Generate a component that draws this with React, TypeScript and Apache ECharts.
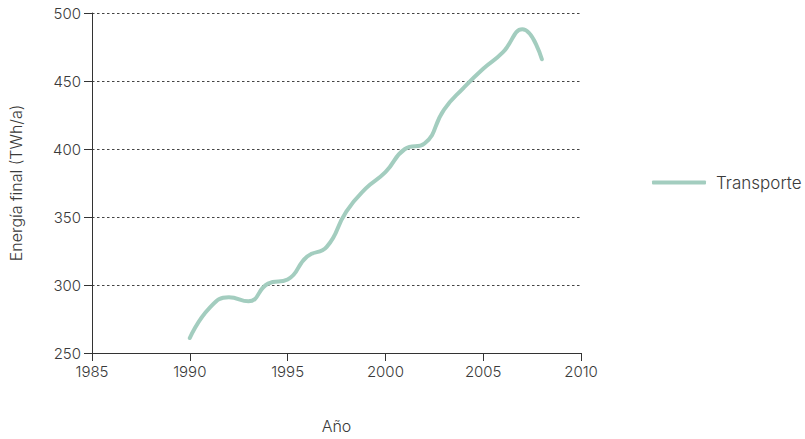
import React, { useEffect, useRef } from "react";
import * as echarts from "echarts";

const years = [1990, 1991, 1992, 1993, 1994, 1995, 1996, 1997, 1998, 1999, 2000, 2001, 2002, 2003, 2004, 2005, 2006, 2007, 2008];
const transporte = [261, 283, 291, 288, 301, 304, 321, 328, 354, 371, 383, 400, 404, 429, 445, 459, 471, 488, 466];
const seriesName = "Transporte";
const xName = "Año";
const yName = "Energía final (TWh/a)";

const FONT = "Inter, 'Liberation Sans', Arial, sans-serif";
const TXT = "#3a3a3a";
const LINE = "#a3cdbf";

export default function App() {
  const ref = useRef<HTMLDivElement>(null);
  useEffect(() => {
    if (!ref.current) return;
    const chart = echarts.init(ref.current, undefined, { renderer: "svg" });
    chart.setOption({
      animation: false,
      backgroundColor: "#ffffff",
      textStyle: { fontFamily: FONT, fontWeight: 300 },
      grid: { left: 92, right: 224, top: 13, bottom: 86, containLabel: false },
      legend: {
        show: true,
        data: [{ name: seriesName, icon: "roundRect" }],
        left: 652,
        top: 174,
        padding: 0,
        orient: "vertical",
        itemWidth: 54,
        itemHeight: 4,
        itemStyle: { color: LINE },
        textStyle: { fontFamily: FONT, fontWeight: 300, fontSize: 17, color: TXT, padding: [0, 0, 0, 5] },
      },
      xAxis: {
        type: "value",
        min: 1985,
        max: 2010,
        interval: 5,
        name: xName,
        nameLocation: "middle",
        nameGap: 65,
        nameTextStyle: { fontFamily: FONT, fontWeight: 300, fontSize: 16, color: TXT },
        axisLine: { show: true, onZero: false, lineStyle: { color: "#333", width: 1 } },
        axisTick: { show: true, inside: false, length: 8, lineStyle: { color: "#333" } },
        axisLabel: { fontFamily: FONT, fontWeight: 300, fontSize: 15, color: TXT, margin: 11, formatter: (v: number) => String(v) },
        splitLine: { show: false },
      },
      yAxis: {
        type: "value",
        min: 250,
        max: 500,
        interval: 50,
        name: yName,
        nameLocation: "middle",
        nameGap: 68,
        nameRotate: 90,
        nameTextStyle: { fontFamily: FONT, fontWeight: 300, fontSize: 16, color: TXT },
        axisLine: { show: true, lineStyle: { color: "#333", width: 1 } },
        axisTick: { show: true, inside: false, length: 8, lineStyle: { color: "#333" } },
        axisLabel: { fontFamily: FONT, fontWeight: 300, fontSize: 15, color: TXT, margin: 11, formatter: (v: number) => String(v) },
        splitLine: { show: true, lineStyle: { color: "#444", width: 1, type: [2.5, 2.5] } },
      },
      series: [
        {
          name: seriesName,
          type: "line",
          data: years.map((y, i) => [y, transporte[i]]),
          smooth: 0.5,
          symbol: "none",
          showSymbol: false,
          lineStyle: { color: LINE, width: 4, cap: "round" },
          itemStyle: { color: LINE },
        },
      ],
    });
    return () => chart.dispose();
  }, []);
  return <div ref={ref} style={{ position: "fixed", left: 0, top: 0, width: 805, height: 439 }} />;
}
